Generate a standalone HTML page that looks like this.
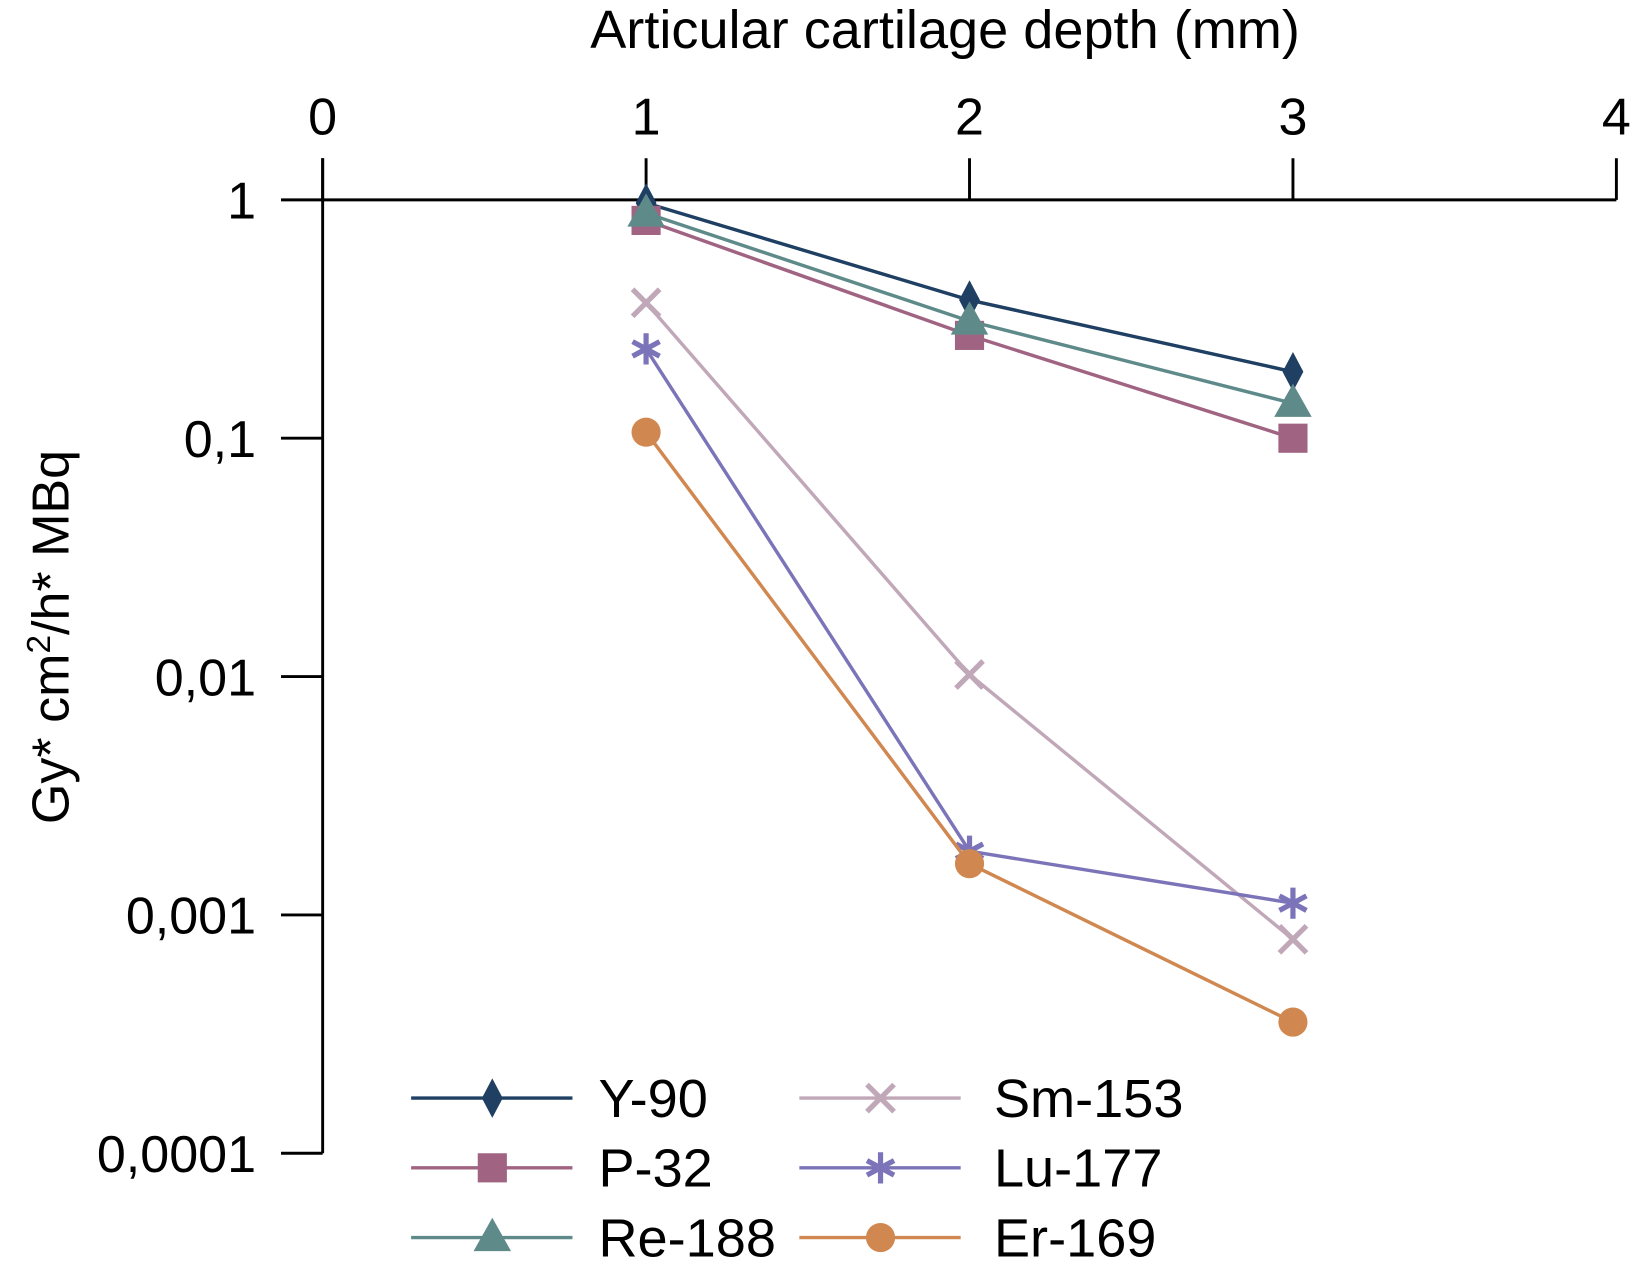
<!DOCTYPE html>
<html><head><meta charset="utf-8"><style>
html,body{margin:0;padding:0;background:#fff;}
svg{display:block;font-family:"Liberation Sans",Arial,sans-serif;}
</style></head><body>
<svg id="chart" width="1632" height="1281" viewBox="0 0 1568 1230.7" xmlns="http://www.w3.org/2000/svg">
<g id="axes"></g><g id="series"></g><g id="legend"></g>
</svg>
<script>
const xTicks = [0, 1, 2, 3, 4];
const xTickLabels = ["0", "1", "2", "3", "4"];
const yTicks = [1, 0.1, 0.01, 0.001, 0.0001];
const yTickLabels = ["1", "0,1", "0,01", "0,001", "0,0001"];
const depths = [1, 2, 3];
const seriesNames = ["Y-90", "P-32", "Re-188", "Sm-153", "Lu-177", "Er-169"];
const y90 = [0.97, 0.38, 0.19];
const p32 = [0.82, 0.27, 0.10];
const re188 = [0.88, 0.31, 0.14];
const sm153 = [0.37, 0.0102, 0.00079];
const lu177 = [0.237, 0.00185, 0.00112];
const er169 = [0.106, 0.00164, 0.000355];

const NS = "http://www.w3.org/2000/svg";
const X0 = 310, XS = 310.75, Y0 = 192, DEC = 229;
function sx(v){ return X0 + v * XS; }
function sy(v){ return Y0 - Math.log10(v) * DEC; }
function mk(tag, attrs, parent, text){
  const e = document.createElementNS(NS, tag);
  for (const k in attrs) e.setAttribute(k, attrs[k]);
  if (text !== undefined) e.textContent = text;
  parent.appendChild(e); return e;
}
const axes = document.getElementById('axes');
let l = mk('line', {x1:310, y1:152, x2:310, y2:1108, stroke:'#000', 'stroke-width':2.8}, axes);


l = mk('line', {x1:310, y1:192, x2:1553, y2:192, stroke:'#000', 'stroke-width':2.8}, axes);


xTicks.forEach((t, i) => {
  const tk = mk('line', {x1:sx(t), y1:152, x2:sx(t), y2:192, stroke:'#000', 'stroke-width':2.8}, axes);
  
  
  const tx = mk('text', {x:sx(t), y:129, 'font-size':50, 'text-anchor':'middle'}, axes, xTickLabels[i]);
  
  
});
yTicks.forEach((t, i) => {
  const tk = mk('line', {x1:270, y1:sy(t), x2:310, y2:sy(t), stroke:'#000', 'stroke-width':2.8}, axes);
  
  
  const tx = mk('text', {x:246, y:sy(t)+18, 'font-size':50, 'text-anchor':'end'}, axes, yTickLabels[i]);
  
  
});
let t = mk('text', {x:908, y:46, 'font-size':52, 'text-anchor':'middle'}, axes, 'Articular cartilage depth (mm)');


t = mk('text', {x:0, y:0, 'font-size':50, 'text-anchor':'middle', transform:'translate(66,612) rotate(-90)'}, axes);


t.innerHTML = 'Gy* cm<tspan dy="-18" font-size="32">2</tspan><tspan dy="18">/h* MBq</tspan>';

const colors = ["#1f3f63", "#a06482", "#5f8a8a", "#c0a8b8", "#7b74b8", "#d08850"];
const markers = ["diamond", "square", "triangle", "cross", "star", "circle"];
const allData = [y90, p32, re188, sm153, lu177, er169];
function marker(g, type, x, y, c){
  if (type === 'diamond') mk('path', {d:`M${x},${y-19} L${x+10},${y} L${x},${y+19} L${x-10},${y} Z`, fill:c}, g);
  else if (type === 'square') mk('rect', {x:x-14, y:y-14, width:28, height:28, fill:c}, g);
  else if (type === 'triangle') mk('path', {d:`M${x},${y-19} L${x+18},${y+13} L${x-18},${y+13} Z`, fill:c}, g);
  else if (type === 'cross') mk('path', {d:`M${x-13},${y-13} L${x+13},${y+13} M${x+13},${y-13} L${x-13},${y+13}`, stroke:c, 'stroke-width':5}, g);
  else if (type === 'star') mk('path', {d:`M${x},${y-15} L${x},${y+15} M${x-13},${y-7} L${x+13},${y+7} M${x+13},${y-7} L${x-13},${y+7}`, stroke:c, 'stroke-width':5}, g);
  else mk('circle', {cx:x, cy:y, r:14, fill:c}, g);
}
const sg = document.getElementById('series');
allData.forEach((arr, si) => {
  const g = mk('g', {}, sg);
  
  
  const pts = arr.map((v, i) => sx(depths[i]) + ',' + sy(v)).join(' ');
  mk('polyline', {points:pts, fill:'none', stroke:colors[si], 'stroke-width':3.3}, g);
  arr.forEach((v, i) => marker(g, markers[si], sx(depths[i]), sy(v), colors[si]));
});
const lg = document.getElementById('legend');
seriesNames.forEach((n, i) => {
  const col = Math.floor(i / 3), row = i % 3;
  const x1 = col ? 768 : 395, y = 1055 + row * 67;
  const g = mk('g', {}, lg);
  
  
  mk('line', {x1:x1, y1:y, x2:x1+155, y2:y, stroke:colors[i], 'stroke-width':3.3}, g);
  marker(g, markers[i], x1 + 78, y, colors[i]);
  mk('text', {x:col ? 955 : 575, y:y+18, 'font-size':52}, g, n);
});
</script>
</body></html>
